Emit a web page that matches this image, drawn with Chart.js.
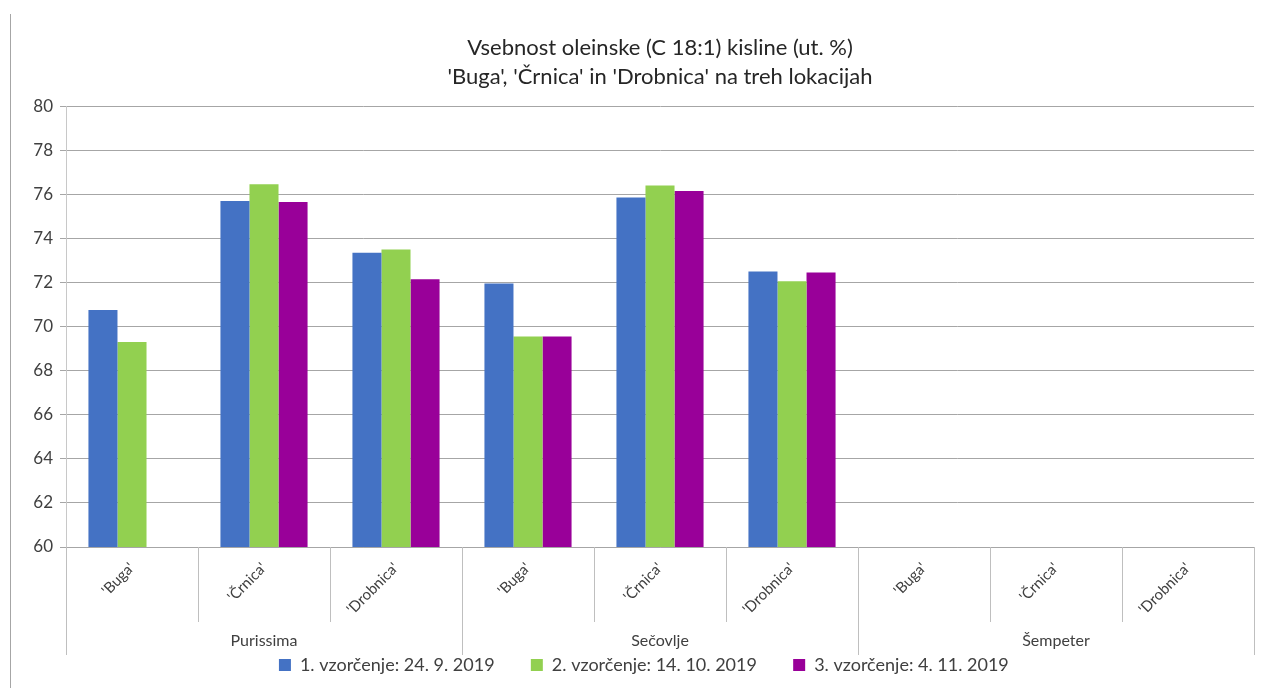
<!DOCTYPE html>
<html lang="sl">
<head>
<meta charset="UTF-8" />
<title>Vsebnost oleinske kisline</title>
<script src="https://cdn.jsdelivr.net/npm/chart.js"></script>
<style>
  html, body { margin: 0; padding: 0; background: #fff; }
  #wrap { width: 1269px; height: 688px; position: relative; }
</style>
</head>
<body>
<div id="wrap"><canvas id="myChart" width="1269" height="688"></canvas></div>
<script>
  const categories = ["'Buga'", "'Črnica'", "'Drobnica'", "'Buga'", "'Črnica'", "'Drobnica'", "'Buga'", "'Črnica'", "'Drobnica'"];
  const groups = ["Purissima", "Sečovlje", "Šempeter"];
  const seriesNames = ["1. vzorčenje: 24. 9. 2019", "2. vzorčenje: 14. 10. 2019", "3. vzorčenje: 4. 11. 2019"];
  const sample1 = [70.75, 75.7, 73.35, 71.95, 75.85, 72.5, null, null, null];
  const sample2 = [69.3, 76.45, 73.5, 69.55, 76.4, 72.05, null, null, null];
  const sample3 = [null, 75.65, 72.15, 69.55, 76.15, 72.45, null, null, null];
  const yMin = 60, yMax = 80, yStep = 2;

  const FONT = "Lato, 'Open Sans', sans-serif";
  const textColor = "#404040";
  const legendGap = "\u00A0".repeat(7); // wider gap between legend items

  // separators in the axis area + left frame line
  const axisLines = {
    id: "axisLines",
    afterDraw(chart) {
      const ctx = chart.ctx;
      const x = chart.scales.x;
      const area = chart.chartArea;
      const n = categories.length;
      ctx.save();
      ctx.strokeStyle = "#bfbfbf";
      ctx.lineWidth = 1;
      for (let i = 0; i <= n; i++) {
        let px;
        if (i === 0) px = area.left;
        else if (i === n) px = area.right;
        else px = (x.getPixelForValue(i - 1) + x.getPixelForValue(i)) / 2;
        px = Math.round(px) + 0.5;
        const bottom = (i % 3 === 0) ? x.bottom + 33 : x.bottom;
        ctx.beginPath();
        ctx.moveTo(px, area.bottom);
        ctx.lineTo(px, bottom);
        ctx.stroke();
      }
      ctx.strokeStyle = "#a6a6a6";
      ctx.beginPath();
      ctx.moveTo(10.5, 14);
      ctx.lineTo(10.5, 688);
      ctx.stroke();
      ctx.restore();
    }
  };

  const ctx = document.getElementById("myChart").getContext("2d");
  const chart = new Chart(ctx, {
    type: "bar",
    data: {
      labels: categories,
      datasets: [
        { label: seriesNames[0], data: sample1, backgroundColor: "#4472C4" },
        { label: seriesNames[1], data: sample2, backgroundColor: "#92D050" },
        { label: seriesNames[2], data: sample3, backgroundColor: "#990099" }
      ]
    },
    options: {
      responsive: false,
      animation: false,
      categoryPercentage: 0.66,
      barPercentage: 1.0,
      layout: { padding: { left: 10, right: 15, top: 10, bottom: 4 } },
      plugins: {
        tooltip: { enabled: false },
        title: {
          display: true,
          fullSize: false,
          text: ["Vsebnost oleinske (C 18:1) kisline (ut. %)", "'Buga', 'Črnica' in 'Drobnica' na treh lokacijah"],
          color: "#262626",
          font: { family: FONT, size: 22, weight: "normal", lineHeight: 1.32 },
          padding: { top: 23.5, bottom: 14.5 }
        },
        legend: {
          position: "bottom",
          fullSize: false,
          labels: {
            color: textColor,
            font: { family: FONT, size: 18 },
            boxWidth: 12,
            boxHeight: 12,
            padding: 4,
            generateLabels(chart) {
              const items = Chart.defaults.plugins.legend.labels.generateLabels(chart);
              items.forEach(it => { it.text = it.text + legendGap; });
              return items;
            }
          }
        }
      },
      scales: {
        y: {
          min: yMin,
          max: yMax,
          ticks: { stepSize: yStep, color: textColor, font: { family: FONT, size: 17 }, padding: 7 },
          grid: { color: "#a6a6a6", tickLength: 6 },
          border: { color: "#c8c8c8" },
          afterFit(scale) { scale.width = 56; }
        },
        x: {
          weight: 0,
          grid: { display: false },
          border: { color: "#a6a6a6" },
          ticks: {
            color: textColor,
            font: { family: FONT, size: 15 },
            minRotation: 45,
            maxRotation: 45,
            padding: 4,
            autoSkip: false
          },
          afterFit(scale) { scale.height = 75; }
        },
        x2: {
          type: "category",
          labels: groups,
          position: "bottom",
          offset: true,
          weight: 1,
          grid: { display: false, drawTicks: false },
          border: { display: false },
          ticks: { color: textColor, font: { family: FONT, size: 16 }, padding: 9 },
          afterFit(scale) { scale.height = 30; }
        }
      }
    },
    plugins: [axisLines]
  });
</script>
</body>
</html>
